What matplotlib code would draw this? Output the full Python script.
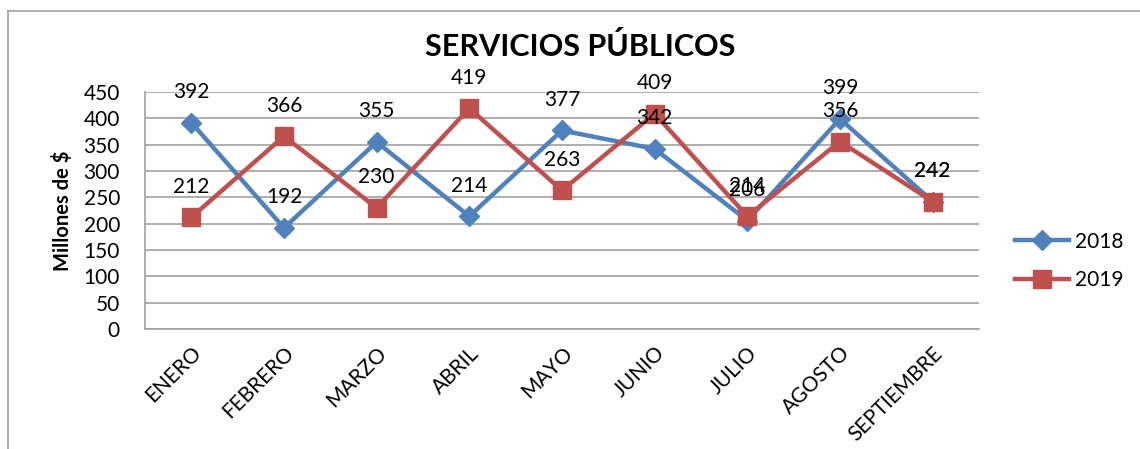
import matplotlib
matplotlib.use("Agg")
import matplotlib.pyplot as plt
from matplotlib.lines import Line2D

months = ["ENERO", "FEBRERO", "MARZO", "ABRIL", "MAYO", "JUNIO", "JULIO", "AGOSTO", "SEPTIEMBRE"]
values_2018 = [392, 192, 355, 214, 377, 342, 206, 399, 242]
values_2019 = [212, 366, 230, 419, 263, 409, 214, 356, 242]
y_ticks = [0, 50, 100, 150, 200, 250, 300, 350, 400, 450]

plt.rcParams['font.family'] = ['Lato', 'DejaVu Sans']

W, H = 1140, 449
fig = plt.figure(figsize=(W / 100, H / 100), dpi=100)
ax = fig.add_axes([145 / W, 1 - 329 / H, (979 - 145) / W, (329 - 92) / H])

blue = "#4F81BD"
red = "#C0504D"
grid_c = "#A0A0A0"

x = list(range(len(months)))
ax.plot(x, values_2018, color=blue, lw=3.2, marker="D", markersize=10, label="2018", zorder=3)
ax.plot(x, values_2019, color=red, lw=3.2, marker="s", markersize=12.5, label="2019", zorder=4)

fs = 15
for xi, v in zip(x, values_2018):
    ax.annotate(str(v), (xi, v), xytext=(0, 22), textcoords="offset points",
                ha="center", va="center", fontsize=fs, color="black", zorder=5)
for xi, v in zip(x, values_2019):
    ax.annotate(str(v), (xi, v), xytext=(0, 22), textcoords="offset points",
                ha="center", va="center", fontsize=fs, color="black", zorder=5)

ax.set_xlim(-0.5, len(months) - 0.5)
ax.set_ylim(0, 450)
ax.set_yticks(y_ticks)
ax.set_yticklabels([str(t) for t in y_ticks], fontsize=fs)
ax.set_xticks(x)
ax.set_xticklabels(months, fontsize=fs, rotation=45, ha="right", rotation_mode="anchor")
ax.tick_params(axis="both", length=0)
ax.tick_params(axis="x", pad=10)
ax.tick_params(axis="y", pad=18)

ax.grid(axis="y", color=grid_c, lw=1.2)
ax.set_axisbelow(True)
for s in ["top", "right"]:
    ax.spines[s].set_visible(False)
for s in ["left", "bottom"]:
    ax.spines[s].set_color(grid_c)
    ax.spines[s].set_linewidth(1.2)

ax.set_ylabel("Millones de $", fontsize=14.5, fontweight="bold", labelpad=8)

fig.text(580 / W, 1 - 47 / H, "SERVICIOS PÚBLICOS", fontsize=22, fontweight="bold",
         ha="center", va="center")

leg = fig.legend(loc="center left", bbox_to_anchor=(1015 / W, 1 - 261 / H),
                 frameon=False, fontsize=fs, borderpad=0, borderaxespad=0,
                 handlelength=2.6, handletextpad=0.3, labelspacing=0.9)

# chart frame
fig.add_artist(Line2D([8 / W, 1.0], [1 - 11 / H, 1 - 11 / H], transform=fig.transFigure,
                      color="#A0A0A0", lw=1.2))
fig.add_artist(Line2D([8 / W, 8 / W], [1 - 11 / H, 0], transform=fig.transFigure,
                      color="#A0A0A0", lw=1.2))

fig.savefig("out.png", dpi=100)
